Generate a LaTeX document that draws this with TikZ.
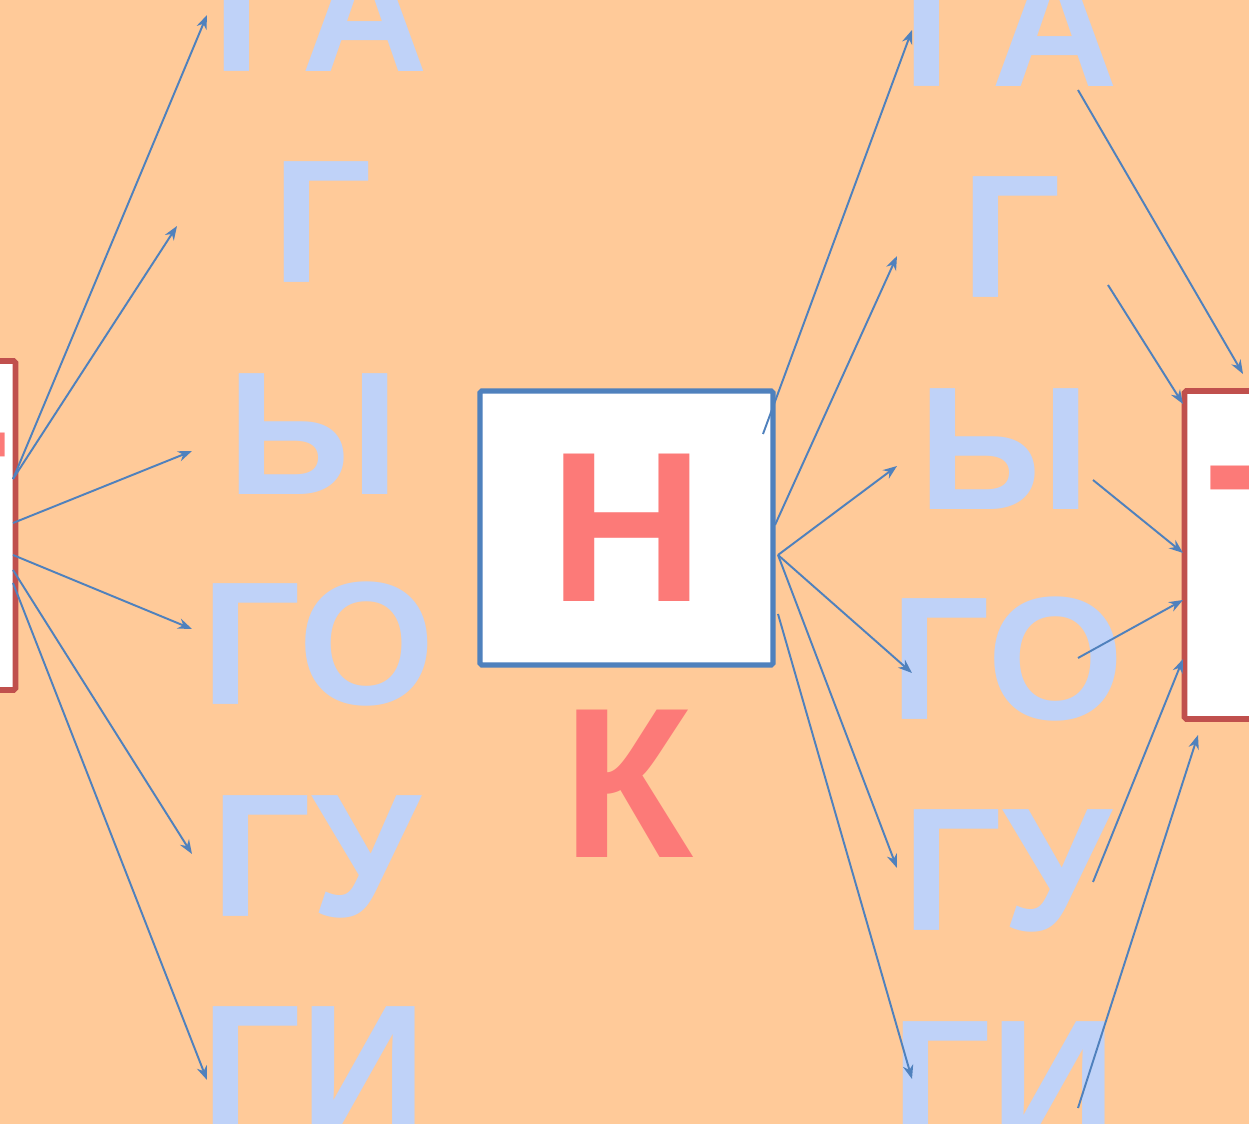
\documentclass[tikz,border=0pt]{standalone}
\usepackage{fontspec}
\setmainfont{Liberation Sans}
\usetikzlibrary{arrows.meta}
\definecolor{bgpeach}{HTML}{FFCA99}
\definecolor{sylblue}{HTML}{BFD2F8}
\definecolor{capred}{HTML}{FC7A78}
\definecolor{edgered}{HTML}{C0504D}
\definecolor{edgeblue}{HTML}{4F81BD}
\tikzset{
  syl/.style={font=\fontsize{100}{100}\selectfont\bfseries,text=sylblue,anchor=base,inner sep=0pt},
  bigletter/.style={font=\fontsize{122}{122}\selectfont\bfseries,text=capred,inner sep=0pt},
  card/.style={draw,fill=white,line width=3.2pt,rounded corners=1pt,inner sep=0pt},
  flow/.style={-{Stealth[length=2.8mm,width=2.1mm,inset=0.9mm]},line width=1.1pt,draw=edgeblue}
}
\begin{document}
\begin{tikzpicture}[x=0.02cm,y=-0.02cm]
  \useasboundingbox (0,0) rectangle (1249,1124);
  \fill[bgpeach] (0,0) rectangle (1249,1124);
  \clip (0,0) rectangle (1249,1124);
  % boxes
  \node[card,draw=edgered,minimum width=2.3cm,minimum height=6.58cm] (lbox) at (-42,525.5) {};
  \node[bigletter,anchor=base] (lcap) at (-58,581) {Т};
  \node[card,draw=edgeblue,line width=2.9pt,minimum width=5.86cm,minimum height=5.48cm,bigletter] (mbox) at (626.5,528) {Н};
  \node[bigletter,anchor=base] (mcap) at (628,858) {К};
  \node[card,draw=edgered,minimum width=3.58cm,minimum height=6.56cm] (rbox) at (1274,555) {};
  \node[bigletter,anchor=base] (rcap) at (1274,614) {Т};
  % left column
  \node[syl] (lGA) at (320,72) {ГА};
  \node[syl] (lG) at (322,283) {Г};
  \node[syl] (lY) at (314,495) {Ы};
  \node[syl] (lGO) at (318,705) {ГО};
  \node[syl] (lGU) at (316,917) {ГУ};
  \node[syl] (lGI) at (314,1128) {ГИ};
  % right column
  \node[syl] (rGA) at (1010,87) {ГА};
  \node[syl] (rG) at (1011,298) {Г};
  \node[syl] (rY) at (1004,510) {Ы};
  \node[syl] (rGO) at (1007,720) {ГО};
  \node[syl] (rGU) at (1007,931) {ГУ};
  \node[syl] (rGI) at (1004,1143) {ГИ};
  % arrow ends
  \coordinate (lsA) at (13,479);
  \coordinate (lsB) at (13,523);
  \coordinate (lsC) at (13,555);
  \coordinate (lsD) at (13,570);
  \coordinate (lsE) at (13,583);
  \coordinate (leA) at (207,15);
  \coordinate (leB) at (177,226);
  \coordinate (leC) at (192,451);
  \coordinate (leD) at (192,629);
  \coordinate (leE) at (192,854);
  \coordinate (leF) at (207,1080);
  \coordinate (msA) at (763,434);
  \coordinate (msB) at (775,525);
  \coordinate (msC) at (778,555);
  \coordinate (msD) at (778,614);
  \coordinate (meA) at (912,30);
  \coordinate (meB) at (897,256);
  \coordinate (meC) at (897,466);
  \coordinate (meD) at (912,673);
  \coordinate (meE) at (897,868);
  \coordinate (meF) at (912,1079);
  \coordinate (rsA) at (1078,90);
  \coordinate (rsB) at (1108,285);
  \coordinate (rsC) at (1093,480);
  \coordinate (rsD) at (1078,658);
  \coordinate (rsE) at (1093,882);
  \coordinate (rsF) at (1078,1108);
  \coordinate (reA) at (1243,374);
  \coordinate (reB) at (1183,404);
  \coordinate (reC) at (1183,553);
  \coordinate (reD) at (1183,600);
  \coordinate (reE) at (1183,659);
  \coordinate (reF) at (1198,735);
  % arrows
  \draw[flow] (lsA) -- (leA);
  \draw[flow] (lsA) -- (leB);
  \draw[flow] (lsB) -- (leC);
  \draw[flow] (lsC) -- (leD);
  \draw[flow] (lsD) -- (leE);
  \draw[flow] (lsE) -- (leF);
  \draw[flow] (msA) -- (meA);
  \draw[flow] (msB) -- (meB);
  \draw[flow] (msC) -- (meC);
  \draw[flow] (msC) -- (meD);
  \draw[flow] (msC) -- (meE);
  \draw[flow] (msD) -- (meF);
  \draw[flow] (rsA) -- (reA);
  \draw[flow] (rsB) -- (reB);
  \draw[flow] (rsC) -- (reC);
  \draw[flow] (rsD) -- (reD);
  \draw[flow] (rsE) -- (reE);
  \draw[flow] (rsF) -- (reF);
\end{tikzpicture}
\end{document}
